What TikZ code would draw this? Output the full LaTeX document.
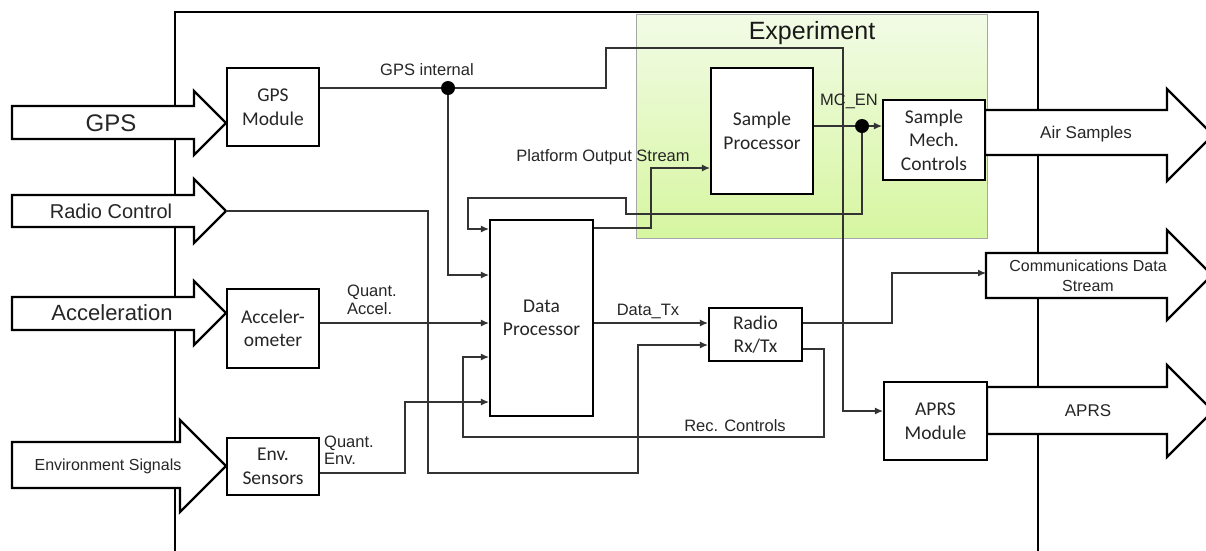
\documentclass[tikz,border=0pt]{standalone}
\usepackage{fontspec}
\setmainfont{Liberation Sans}
\newfontfamily\boxfont{Carlito}
\usetikzlibrary{arrows.meta}
\definecolor{exptop}{RGB}{242,251,230}
\definecolor{expbot}{RGB}{214,246,160}
\begin{document}
\begin{tikzpicture}[x=1pt,y=-1pt,
  blk/.style={draw,line width=2.2pt,fill=white,inner sep=0pt,align=center,text=black!85,font=\boxfont\fontsize{19.5}{23.5}\selectfont},
  wire/.style={line width=1.1pt,black!80},
  bigarr/.style={draw,line width=2.4pt,fill=white,line join=miter},
  lbl/.style={inner sep=0pt,text=black!85,font=\fontsize{16.5}{17.5}\selectfont},
  >={Latex[length=8pt,width=7pt]}]
        \clip (0,0) rectangle (1206,550);
        \fill[white] (0,0) rectangle (1206,550);
        \draw[line width=2.4pt] (175,560) -- (175,12) -- (1038,12) -- (1038,560);
        \shadedraw[top color=exptop, bottom color=expbot, draw=black!35, line width=0.8pt] (636,14) rectangle (987,238);
        \node[font=\fontsize{25}{28}\selectfont, text=black!90] (exp) at (812,33) {Experiment};

        \draw[bigarr] (12,106) -- (194,106) -- (194,91) -- (226,123) -- (194,155) -- (194,139) -- (12,139) -- cycle;
        \draw[bigarr] (12,195) -- (194,195) -- (194,179) -- (226,211) -- (194,243) -- (194,227) -- (12,227) -- cycle;
        \draw[bigarr] (12,297) -- (194,297) -- (194,281) -- (226,313) -- (194,345) -- (194,330) -- (12,330) -- cycle;
        \draw[bigarr] (12,442) -- (180,442) -- (180,420) -- (226,466) -- (180,512) -- (180,488) -- (12,488) -- cycle;
        \draw[bigarr] (985,110) -- (1167,110) -- (1167,89) -- (1213,135) -- (1167,181) -- (1167,155) -- (985,155) -- cycle;
        \draw[bigarr] (986,253) -- (1167,253) -- (1167,230) -- (1212,275) -- (1167,320) -- (1167,298) -- (986,298) -- cycle;
        \draw[bigarr] (987,387) -- (1167,387) -- (1167,365) -- (1213,411) -- (1167,457) -- (1167,434) -- (987,434) -- cycle;
        \coordinate (rctip) at (226,211);
        \coordinate (cdsin) at (986,273);

        \node[lbl, font=\fontsize{24}{28}\selectfont] (gpsin) at (111,123) {GPS};
        \node[lbl, font=\fontsize{20}{24}\selectfont] (rcin) at (111,211) {Radio Control};
        \node[lbl, font=\fontsize{22}{26}\selectfont] (accin) at (112,313) {Acceleration};
        \node[lbl, font=\fontsize{16}{19}\selectfont] (envin) at (108,466) {Environment Signals};
        \node[lbl, font=\fontsize{17}{20}\selectfont] (airout) at (1086,134) {Air Samples};
        \node[lbl, font=\fontsize{16}{19.5}\selectfont, align=center] (cdsout) at (1088,276) {Communications Data\\Stream};
        \node[lbl, font=\fontsize{17}{20}\selectfont] (aprsout) at (1088,411) {APRS};

        \node[blk, minimum width=92pt, minimum height=78pt] (gpsm) at (273,107) {GPS\\Module};
        \node[blk, minimum width=92pt, minimum height=79pt] (acc) at (273,328.5) {Acceler-\\ometer};
        \node[blk, minimum width=92pt, minimum height=57pt] (env) at (273,466.5) {Env.\\Sensors};
        \node[blk, minimum width=103pt, minimum height=196pt] (dp) at (541.5,318) {Data\\Processor};
        \node[blk, minimum width=102pt, minimum height=126pt] (sp) at (762,131) {Sample\\Processor};
        \node[blk, minimum width=102pt, minimum height=80pt] (smc) at (934,140) {Sample\\Mech.\\Controls};
        \node[blk, minimum width=93pt, minimum height=53pt] (rad) at (755.5,334.5) {Radio\\Rx/Tx};
        \node[blk, minimum width=103pt, minimum height=78pt] (aprs) at (935.5,421) {APRS\\Module};

        \coordinate (j1) at (448,88);
        \coordinate (j2) at (862,126);
        \draw[wire, ->] (gpsm.east |- j1) -- (j1) -- (606,88) -- (606,48) -- (843,48) |- (aprs.west |- 0,411);
        \draw[wire, ->] (j1) |- (dp.west |- 0,275);
        \draw[wire, ->] (rctip) -- (428,211) |- (638,473) |- (rad.west |- 0,345);
        \draw[wire, ->] (acc.east |- 0,323) -- (dp.west |- 0,323);
        \draw[wire, ->] (env.east |- 0,473) -| (405,402) -- (dp.west |- 0,402);
        \draw[wire, ->] (dp.east |- 0,323) -- (rad.west |- 0,323);
        \draw[wire, ->] (rad.east |- 0,323) -| (892,273) -- (cdsin);
        \draw[wire, ->] (rad.east |- 0,349) -| (824,437) -| (463,357) -- (dp.west |- 0,357);
        \draw[wire, ->] (dp.east |- 0,228) -| (651,168) -- (sp.west |- 0,168);
        \draw[wire, ->] (sp.east |- j2) -- (smc.west |- j2);
        \draw[wire, ->] (j2) |- (626,214) |- (468,198) |- (dp.west |- 0,229);
        \fill (j1) circle (7);
        \fill (j2) circle (7);

        \node[lbl] (gpsint) at (427,70) {GPS internal};
        \node[lbl] (pos) at (603,157) {Platform Output Stream};
        \node[lbl] (mcen) at (849,101) {MC\_EN};
        \node[lbl, align=left, anchor=west] (qacc) at (347,300) {Quant.\\Accel.};
        \node[lbl, align=left, anchor=west] (qenv) at (324,450) {Quant.\\Env.};
        \node[lbl] (dtx) at (648,311) {Data\_Tx};
        \node[lbl] (rec) at (735,426) {Rec. Controls};
    \end{tikzpicture}
\end{document}
